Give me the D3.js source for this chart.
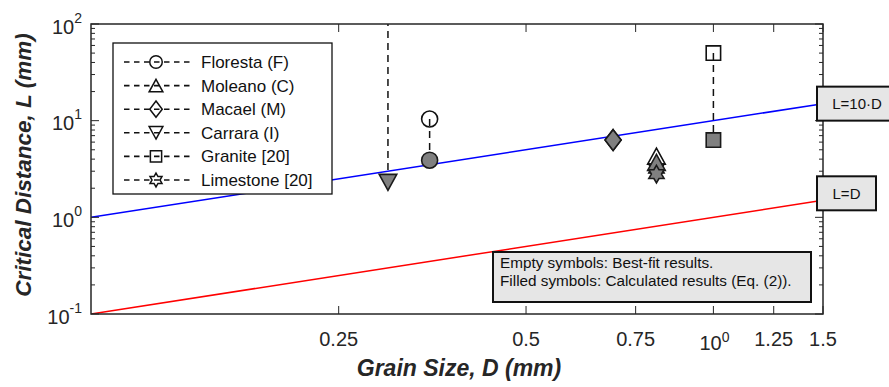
<!DOCTYPE html>
<html>
<head>
<meta charset="utf-8">
<script src="https://cdn.jsdelivr.net/npm/d3@7"></script>
<style>
  html, body { margin: 0; padding: 0; background: #fff; }
  svg { display: block; font-family: "Liberation Sans", Arial, Helvetica, sans-serif; }
</style>
</head>
<body>
<svg id="chart" width="889" height="387"></svg>
<script>
// ---------------- data ----------------
const materials     = ["Floresta (F)", "Moleano (C)", "Macael (M)", "Carrara (I)", "Granite [20]", "Limestone [20]"];
const markerShapes  = ["circle", "triangleUp", "diamond", "triangleDown", "square", "hexagram"];
const grainSize     = [0.35, 0.81, 0.69, 0.30, 1.0, 0.81];     // D (mm)
const bestFitL      = [10.4, 4.3, 6.3, 200, 50, 3.2];          // empty symbols (Carrara off-scale)
const calculatedL   = [3.9, 3.7, 6.3, 2.3, 6.3, 2.8];          // filled symbols (Eq. 2)

const xTicks        = [0.25, 0.5, 0.75, 1, 1.25, 1.5];
const xTickLabels   = ["0.25", "0.5", "0.75", "10^0", "1.25", "1.5"];
const yTicks        = [0.1, 1, 10, 100];
const yTickLabels   = ["10^-1", "10^0", "10^1", "10^2"];

const refLabels     = ["L=10·D", "L=D"];
const refFactors    = [10, 1];
const refColors     = ["#0000ff", "#ff0000"];

const noteLines     = ["Empty symbols: Best-fit results.", "Filled symbols: Calculated results (Eq. (2))."];

// ---------------- layout ----------------
const svg = d3.select("#chart");
const L = 91, R = 823, T = 24, B = 314;
const x = d3.scaleLog().domain([0.1, 1.5]).range([L, R]);
const y = d3.scaleLog().domain([0.1, 100]).range([B, T]);
const axisColor = "#262626";
const fillGray = "#808080";

function markerPath(shape, s) {
  const p = d3.path();
  if (shape === "circle") {
    p.arc(0, 0, s * 0.5, 0, 2 * Math.PI); p.closePath();
  } else if (shape === "square") {
    const h = s * 0.45; p.rect(-h, -h, 2 * h, 2 * h);
  } else if (shape === "diamond") {
    const w = s * 0.5, h = s * 0.65;
    p.moveTo(0, -h); p.lineTo(w, 0); p.lineTo(0, h); p.lineTo(-w, 0); p.closePath();
  } else if (shape === "triangleUp") {
    const w = s * 0.55, h = s * 0.5;
    p.moveTo(0, -h); p.lineTo(w, h); p.lineTo(-w, h); p.closePath();
  } else if (shape === "triangleDown") {
    const w = s * 0.55, h = s * 0.5;
    p.moveTo(0, h); p.lineTo(w, -h); p.lineTo(-w, -h); p.closePath();
  } else if (shape === "hexagram") {
    const ro = s * 0.55, ri = ro * 0.577;
    for (let i = 0; i < 12; i++) {
      const a = -Math.PI / 2 + i * Math.PI / 6;
      const r = i % 2 === 0 ? ro : ri;
      if (i === 0) p.moveTo(r * Math.cos(a), r * Math.sin(a)); else p.lineTo(r * Math.cos(a), r * Math.sin(a));
    }
    p.closePath();
  }
  return p.toString();
}

svg.append("defs").append("clipPath").attr("id", "clip")
  .append("rect").attr("x", L).attr("y", T).attr("width", R - L).attr("height", B - T);

svg.append("rect").attr("x", L).attr("y", T).attr("width", R - L).attr("height", B - T).attr("fill", "#fff");

const plot = svg.append("g").attr("clip-path", "url(#clip)");

const xd = x.domain();
refFactors.forEach((f, i) => {
  plot.append("path")
    .attr("d", d3.line()(xd.map(v => [x(v), y(v * f)])))
    .attr("stroke", refColors[i]).attr("stroke-width", 1.5).attr("fill", "none");
});

const idx = d3.range(materials.length);
plot.selectAll(".conn").data(idx).join("line")
  .attr("x1", i => x(grainSize[i])).attr("x2", i => x(grainSize[i]))
  .attr("y1", i => y(bestFitL[i])).attr("y2", i => y(calculatedL[i]))
  .attr("stroke", "#111").attr("stroke-width", 1.5).attr("stroke-dasharray", "7,5");

// empty markers
plot.selectAll(".empty").data(idx).join("path")
  .attr("transform", i => `translate(${x(grainSize[i])},${y(bestFitL[i])})`)
  .attr("d", i => markerPath(markerShapes[i], 16))
  .attr("fill", "none").attr("stroke", "#111").attr("stroke-width", 1.6);

// filled markers
plot.selectAll(".filled").data(idx).join("path")
  .attr("transform", i => `translate(${x(grainSize[i])},${y(calculatedL[i])})`)
  .attr("d", i => markerPath(markerShapes[i], 16))
  .attr("fill", fillGray).attr("stroke", "#1a1a1a").attr("stroke-width", 1.6);

// ---------------- axes ----------------
function supLabel(sel, label, supSize, supDy) {
  const parts = label.split("^");
  sel.append("tspan").text(parts[0]);
  if (parts.length > 1) {
    sel.append("tspan").attr("font-size", supSize).attr("dy", -supDy).text(parts[1]);
  }
}

const yMinor = [];
[0.1, 1, 10].forEach(d => { for (let k = 2; k <= 9; k++) yMinor.push(d * k); });

const axG = svg.append("g");
function drawTicks(vals, len) {
  vals.forEach(v => {
    axG.append("line").attr("x1", L).attr("x2", L + len).attr("y1", y(v)).attr("y2", y(v))
      .attr("stroke", axisColor).attr("stroke-width", 1);
    axG.append("line").attr("x1", R).attr("x2", R - len).attr("y1", y(v)).attr("y2", y(v))
      .attr("stroke", axisColor).attr("stroke-width", 1);
  });
}
drawTicks(yMinor, 4);
drawTicks(yTicks, 8);

xTicks.forEach(v => {
  axG.append("line").attr("x1", x(v)).attr("x2", x(v)).attr("y1", B).attr("y2", B - 8)
    .attr("stroke", axisColor).attr("stroke-width", 1);
  axG.append("line").attr("x1", x(v)).attr("x2", x(v)).attr("y1", T).attr("y2", T + 8)
    .attr("stroke", axisColor).attr("stroke-width", 1);
});

axG.append("rect").attr("x", L).attr("y", T).attr("width", R - L).attr("height", B - T)
  .attr("fill", "none").attr("stroke", axisColor).attr("stroke-width", 1.5);

yTicks.forEach((v, i) => {
  const t = svg.append("text").attr("x", 82).attr("y", y(v) + 9.5)
    .attr("text-anchor", "end").attr("font-size", 20).attr("fill", "#262626");
  supLabel(t, yTickLabels[i], 14, 11);
});

xTicks.forEach((v, i) => {
  const lab = xTickLabels[i];
  const isPow = lab.includes("^");
  const t = svg.append("text").attr("x", x(v) + (isPow ? 1 : 0)).attr("y", isPow ? 350 : 346)
    .attr("text-anchor", "middle").attr("font-size", 20).attr("fill", "#262626");
  supLabel(t, lab, 14, 8);
});

svg.append("text").attr("x", (L + R) / 2 + 2).attr("y", 376)
  .attr("text-anchor", "middle").attr("font-size", 23).attr("font-weight", "bold").attr("font-style", "italic")
  .attr("fill", "#262626").text("Grain Size, D (mm)");
svg.append("text").attr("transform", `translate(31,${(T + B) / 2 - 4}) rotate(-90)`)
  .attr("text-anchor", "middle").attr("font-size", 22.5).attr("font-weight", "bold").attr("font-style", "italic")
  .attr("fill", "#262626").text("Critical Distance, L (mm)");

// ---------------- legend ----------------
const lg = svg.append("g");
lg.append("rect").attr("x", 113).attr("y", 43).attr("width", 219).attr("height", 151)
  .attr("fill", "#fff").attr("stroke", "#111").attr("stroke-width", 1.3);
materials.forEach((m, i) => {
  const cy = 62 + i * 23.6;
  lg.append("line").attr("x1", 124).attr("x2", 192).attr("y1", cy).attr("y2", cy)
    .attr("stroke", "#111").attr("stroke-width", 1.6).attr("stroke-dasharray", "5.5,4.5");
  lg.append("path").attr("transform", `translate(156,${cy})`)
    .attr("d", markerPath(markerShapes[i], 12.5))
    .attr("fill", "none").attr("stroke", "#111").attr("stroke-width", 1.5);
  lg.append("text").attr("x", 201).attr("y", cy + 6).attr("font-size", 17).attr("fill", "#111").text(m);
});

// ---------------- reference-line labels ----------------
refFactors.forEach((f, i) => {
  const yy = y(1.5 * f);
  const w = i === 0 ? 75 : 59;
  const cy = i === 0 ? yy : yy - 7;
  svg.append("rect").attr("x", 817).attr("y", cy - 17).attr("width", w).attr("height", 34)
    .attr("fill", "#e6e6e6").attr("stroke", "#111").attr("stroke-width", 2);
  svg.append("text").attr("x", 817 + (i === 0 ? 40 : 29.5)).attr("y", cy + 5.5)
    .attr("text-anchor", "middle").attr("font-size", 15).attr("fill", "#111").text(refLabels[i]);
});

// ---------------- note box ----------------
svg.append("rect").attr("x", 493).attr("y", 252).attr("width", 318).attr("height", 50)
  .attr("fill", "#e6e6e6").attr("stroke", "#111").attr("stroke-width", 2);
noteLines.forEach((s, i) => {
  svg.append("text").attr("x", 500).attr("y", 268 + i * 17.5).attr("font-size", 15.3).attr("fill", "#111").text(s);
});
</script>
</body>
</html>
